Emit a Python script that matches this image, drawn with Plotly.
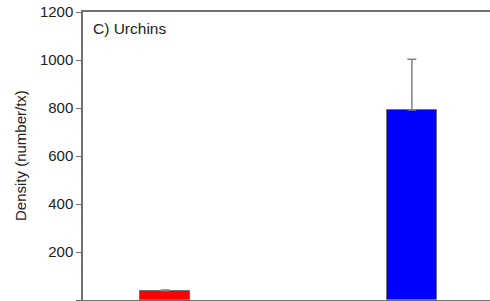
import plotly.graph_objects as go

categories = [1, 2, 3, 4]
density = [39, None, None, 792]
err_up = [3, 0, 0, 211]
bar_colors = ["#ff0000", "#0000ff", "#0000ff", "#0000ff"]
y_ticks = [0, 200, 400, 600, 800, 1000, 1200]

L, R, T, B = 83, 0, 12, 1
W, H = 490, 301
pw = W - L - R

fig = go.Figure()
fig.add_trace(go.Bar(
    x=categories, y=density,
    width=0.61,
    marker=dict(color=bar_colors, line=dict(color="#707070", width=1)),
    error_y=dict(type="data", symmetric=False, array=err_up,
                 arrayminus=[0, 0, 0, 0], color="#808080",
                 thickness=1.5, width=4.5),
    hoverinfo="skip",
))

fig.update_layout(
    width=W, height=H,
    margin=dict(l=L, r=R, t=T, b=B, autoexpand=False),
    plot_bgcolor="white", paper_bgcolor="white",
    font=dict(family="Liberation Sans, Arial, sans-serif", size=15, color="#222222"),
    showlegend=False,
    bargap=0,
)
fig.update_xaxes(
    range=[0, 4.95], tickvals=categories, showticklabels=False,
    ticks="outside", ticklen=4, tickcolor="#707070",
    showline=True, linecolor="#707070", linewidth=1.5, mirror=True,
    showgrid=False, zeroline=False, automargin=False,
)
fig.update_yaxes(
    range=[0, 1200], tickvals=y_ticks,
    ticks="outside", ticklen=5, tickcolor="#707070", tickwidth=1,
    showline=True, linecolor="#707070", linewidth=1.5,
    showgrid=False, zeroline=False, automargin=False,
)
fig.add_annotation(
    text="Density (number/tx)", xref="paper", yref="paper",
    x=(20 - L) / pw, y=0.5, xanchor="center", yanchor="middle",
    textangle=-90, showarrow=False, font=dict(size=15),
)
fig.add_annotation(
    text="C) Urchins", xref="paper", yref="paper", x=(91 - L) / pw, y=1 - 6 / (H - T - B),
    xanchor="left", yanchor="top", showarrow=False,
    font=dict(size=15.5),
)
fig.write_html(
    "out.html",
    config={"displayModeBar": False},
    post_script="document.body.style.margin='0';document.body.style.overflow='hidden';",
)
